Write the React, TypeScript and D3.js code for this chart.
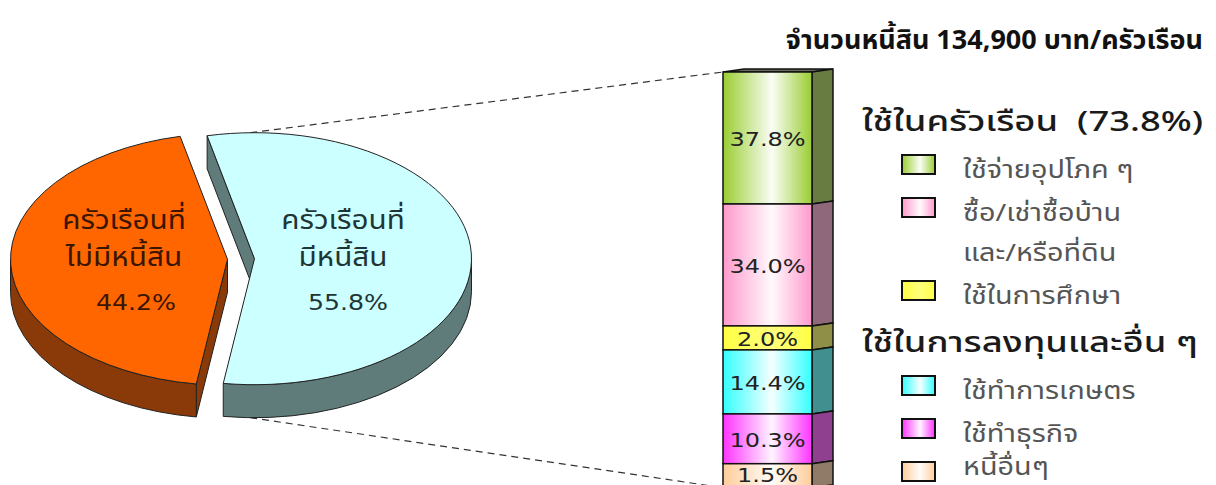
import React from 'react'
import * as d3 from 'd3'

const W = 1216
const H = 485

// pie: share of households with / without debt
const pieValues = [55.8, 44.2]
const pieLabels = [['ครัวเรือนที่', 'มีหนี้สิน'], ['ครัวเรือนที่', 'ไม่มีหนี้สิน']]
const pieTop = ['#ccffff', '#ff6600']
const pieSide = ['#5f7c7b', '#8a3a08']
const pieText = ['#1f3535', '#3a1500']

// stacked bar: purpose of the debt
const debtValues = [37.8, 34.0, 2.0, 14.4, 10.3, 1.5]
const debtColors = ['#9acd32', '#ff99cc', '#ffff44', '#33ffff', '#ff33ff', '#ffcc99']
const debtNames = [
  ['ใช้จ่ายอุปโภค ๆ'],
  ['ซื้อ/เช่าซื้อบ้าน', 'และ/หรือที่ดิน'],
  ['ใช้ในการศึกษา'],
  ['ใช้ทำการเกษตร'],
  ['ใช้ทำธุรกิจ'],
  ['หนี้อื่นๆ'],
]
const groupTitles = ['ใช้ในครัวเรือน  (73.8%)', 'ใช้ในการลงทุนและอื่น ๆ']
const groupStart = [0, 3]
const title = 'จำนวนหนี้สิน 134,900 บาท/ครัวเรือน'

const thai = "'Noto Sans Thai', 'Noto Sans Thai Looped', Tahoma, 'DejaVu Sans', sans-serif"
const num = "'DejaVu Sans', Verdana, sans-serif"

const fmt = (v: number) => `${v.toFixed(1)}%`

// text drawn with a horizontal stretch, like the wide fonts in the original
function Wide(props: { x: number; y: number; sx: number; anchor?: string; children: React.ReactNode; [k: string]: any }) {
  const { x, y, sx, anchor, children, ...rest } = props
  return (
    <g transform={`translate(${x},${y}) scale(${sx},1)`}>
      <text x={0} y={0} textAnchor={anchor || 'start'} style={{ whiteSpace: 'pre' }} {...rest}>{children}</text>
    </g>
  )
}

export default function App() {
  // pie geometry
  const cx = 241, cy = 259, rx = 217, ry = 126, depth = 33, explode = 13.5
  const arcs = d3.pie<number>().sort(null)
    .startAngle(-0.22).endAngle(-0.22 + 2 * Math.PI)(pieValues)

  const pt = (c: [number, number], a: number, dy = 0): [number, number] =>
    [c[0] + rx * Math.sin(a), c[1] - ry * Math.cos(a) + dy]
  const P = (p: [number, number]) => `${p[0].toFixed(2)},${p[1].toFixed(2)}`

  const slices = arcs.map((a, i) => {
    const mid = (a.startAngle + a.endAngle) / 2
    const c: [number, number] = [cx + explode * Math.sin(mid), cy - explode * (ry / rx) * Math.cos(mid)]
    const large = a.endAngle - a.startAngle > Math.PI ? 1 : 0
    const topPath = `M${P(c)}L${P(pt(c, a.startAngle))}A${rx},${ry} 0 ${large} 1 ${P(pt(c, a.endAngle))}Z`
    // visible part of the rim is the front half (pi/2 .. 3pi/2), checked over two turns
    const norm = (x: number) => ((x % (2 * Math.PI)) + 2 * Math.PI) % (2 * Math.PI)
    const s = norm(a.startAngle), e = s + (a.endAngle - a.startAngle)
    const rims: string[] = []
    ;[Math.PI / 2, Math.PI / 2 + 2 * Math.PI].forEach(w0 => {
      const lo = Math.max(s, w0), hi = Math.min(e, w0 + Math.PI)
      if (hi > lo) {
        rims.push(`M${P(pt(c, lo))}A${rx},${ry} 0 0 1 ${P(pt(c, hi))}L${P(pt(c, hi, depth))}A${rx},${ry} 0 0 0 ${P(pt(c, lo, depth))}Z`)
      }
    })
    const faces: string[] = []
    const face = (ang: number) => {
      const p = pt(c, ang)
      return `M${P(c)}L${P(p)}L${P([p[0], p[1] + depth])}L${P([c[0], c[1] + depth])}Z`
    }
    if (Math.sin(a.startAngle) < 0) faces.push(face(a.startAngle))
    if (Math.sin(a.endAngle) > 0) faces.push(face(a.endAngle))
    return { c, topPath, rims, faces, i }
  })

  // bar geometry
  const barX = 723, barW = 89, bdx = 21, bdy = -3, barTop = 72
  const hScale = d3.scalePow().exponent(0.75).domain([0, d3.max(debtValues)!]).range([0, 132])
  const heights = debtValues.map(v => Math.max(24, hScale(v)))
  const tops = heights.map((_, i) => barTop + d3.sum(heights.slice(0, i)))
  const barBottom = barTop + d3.sum(heights)

  const sideColor = (c: string) => d3.interpolateRgb(c, '#4a4a4a')(0.62)

  // dashed connector lines
  const cyanC = slices[0].c
  const dashTop = pt(cyanC, -0.02)
  const dashBot = pt(cyanC, Math.PI + 0.02, depth)

  // legend rows
  const legendX = 862, boxX = 902, textX = 963
  type Row = { kind: 'head' | 'item'; text: string; idx?: number; y: number; first?: boolean }
  const rows: Row[] = []
  let y = 131
  debtNames.forEach((lines, i) => {
    const g = groupStart.indexOf(i)
    if (g >= 0) {
      if (i > 0) y += 48
      rows.push({ kind: 'head', text: groupTitles[g], y })
      y += 47
    } else {
      y += 43
    }
    lines.forEach((t, j) => {
      if (j > 0) y += 40
      rows.push({ kind: 'item', text: t, idx: i, y, first: j === 0 })
    })
  })

  return (
    <svg width={W} height={H} style={{ position: 'absolute', left: 0, top: 0, background: '#fff' }}>
      <defs>
        {debtColors.map((c, i) => (
          <linearGradient key={i} id={`g${i}`} x1="0" x2="1" y1="0" y2="0">
            <stop offset="0" stopColor={c} />
            <stop offset="0.55" stopColor={d3.interpolateRgb(c, '#ffffff')(i === 2 ? 0.3 : 0.95)} />
            <stop offset="1" stopColor={c} />
          </linearGradient>
        ))}
      </defs>

      <Wide x={1203} y={49} sx={1.0} anchor="end" fontFamily={thai} fontWeight="bold" fontSize={27} fill="#111">{title}</Wide>

      {/* dashed connectors */}
      <line x1={dashTop[0]} y1={dashTop[1]} x2={barX} y2={barTop} stroke="#333" strokeWidth={1.2} strokeDasharray="7,5" />
      <line x1={dashBot[0]} y1={dashBot[1]} x2={barX} y2={barBottom} stroke="#333" strokeWidth={1.2} strokeDasharray="7,5" />

      {/* 3D pie */}
      {slices.map(s => (
        <g key={s.i} stroke="#222" strokeWidth={1} strokeLinejoin="round">
          {s.faces.map((f, k) => <path key={k} d={f} fill={pieSide[s.i]} />)}
          {s.rims.map((r, k) => <path key={`r${k}`} d={r} fill={pieSide[s.i]} />)}
          <path d={s.topPath} fill={pieTop[s.i]} />
        </g>
      ))}
      {slices.map(s => {
        const lx = s.i === 0 ? 343 : 124
        return (
          <g key={`t${s.i}`} fill={pieText[s.i]}>
            <Wide x={lx} y={229} sx={1.1} anchor="middle" fontFamily={thai} fontSize={27}>{pieLabels[s.i][0]}</Wide>
            <Wide x={lx} y={266} sx={1.1} anchor="middle" fontFamily={thai} fontSize={27}>{pieLabels[s.i][1]}</Wide>
            <Wide x={lx + (s.i === 0 ? 5 : 12)} y={310} sx={1.2} anchor="middle" fontFamily={num} fontSize={21}>{fmt(pieValues[s.i])}</Wide>
          </g>
        )
      })}

      {/* 3D stacked bar */}
      <path d={`M${barX},${barTop}L${barX + bdx},${barTop + bdy}L${barX + barW + bdx},${barTop + bdy}L${barX + barW},${barTop}Z`}
        fill="#6a6a5a" stroke="#111" strokeWidth={1.5} />
      {debtValues.map((v, i) => (
        <g key={i} stroke="#111" strokeWidth={1.5}>
          <path d={`M${barX + barW},${tops[i]}L${barX + barW + bdx},${tops[i] + bdy}L${barX + barW + bdx},${tops[i] + heights[i] + bdy}L${barX + barW},${tops[i] + heights[i]}Z`}
            fill={sideColor(debtColors[i])} />
          <rect x={barX} y={tops[i]} width={barW} height={heights[i]} fill={`url(#g${i})`} />
          <Wide x={barX + barW / 2} y={i === debtValues.length - 1 ? tops[i] + 18 : tops[i] + heights[i] / 2 + 8} sx={1.2}
            anchor="middle" stroke="none" fontFamily={num} fontSize={20} fill="#222">{fmt(v)}</Wide>
        </g>
      ))}

      {/* legend */}
      {rows.map((r, k) => r.kind === 'head' ? (
        <Wide key={k} x={legendX} y={r.y} sx={1.3} fontFamily={thai} fontSize={28} fill="#1a1a1a" fontWeight={500}>{r.text}</Wide>
      ) : (
        <g key={k}>
          {r.first && <rect x={boxX} y={r.y - 23} width={33} height={19} fill={`url(#g${r.idx})`} stroke="#111" strokeWidth={2} />}
          <Wide x={textX} y={Math.min(r.y, 475)} sx={1.2} fontFamily={thai} fontSize={24} fill="#555">{r.text}</Wide>
        </g>
      ))}
    </svg>
  )
}
